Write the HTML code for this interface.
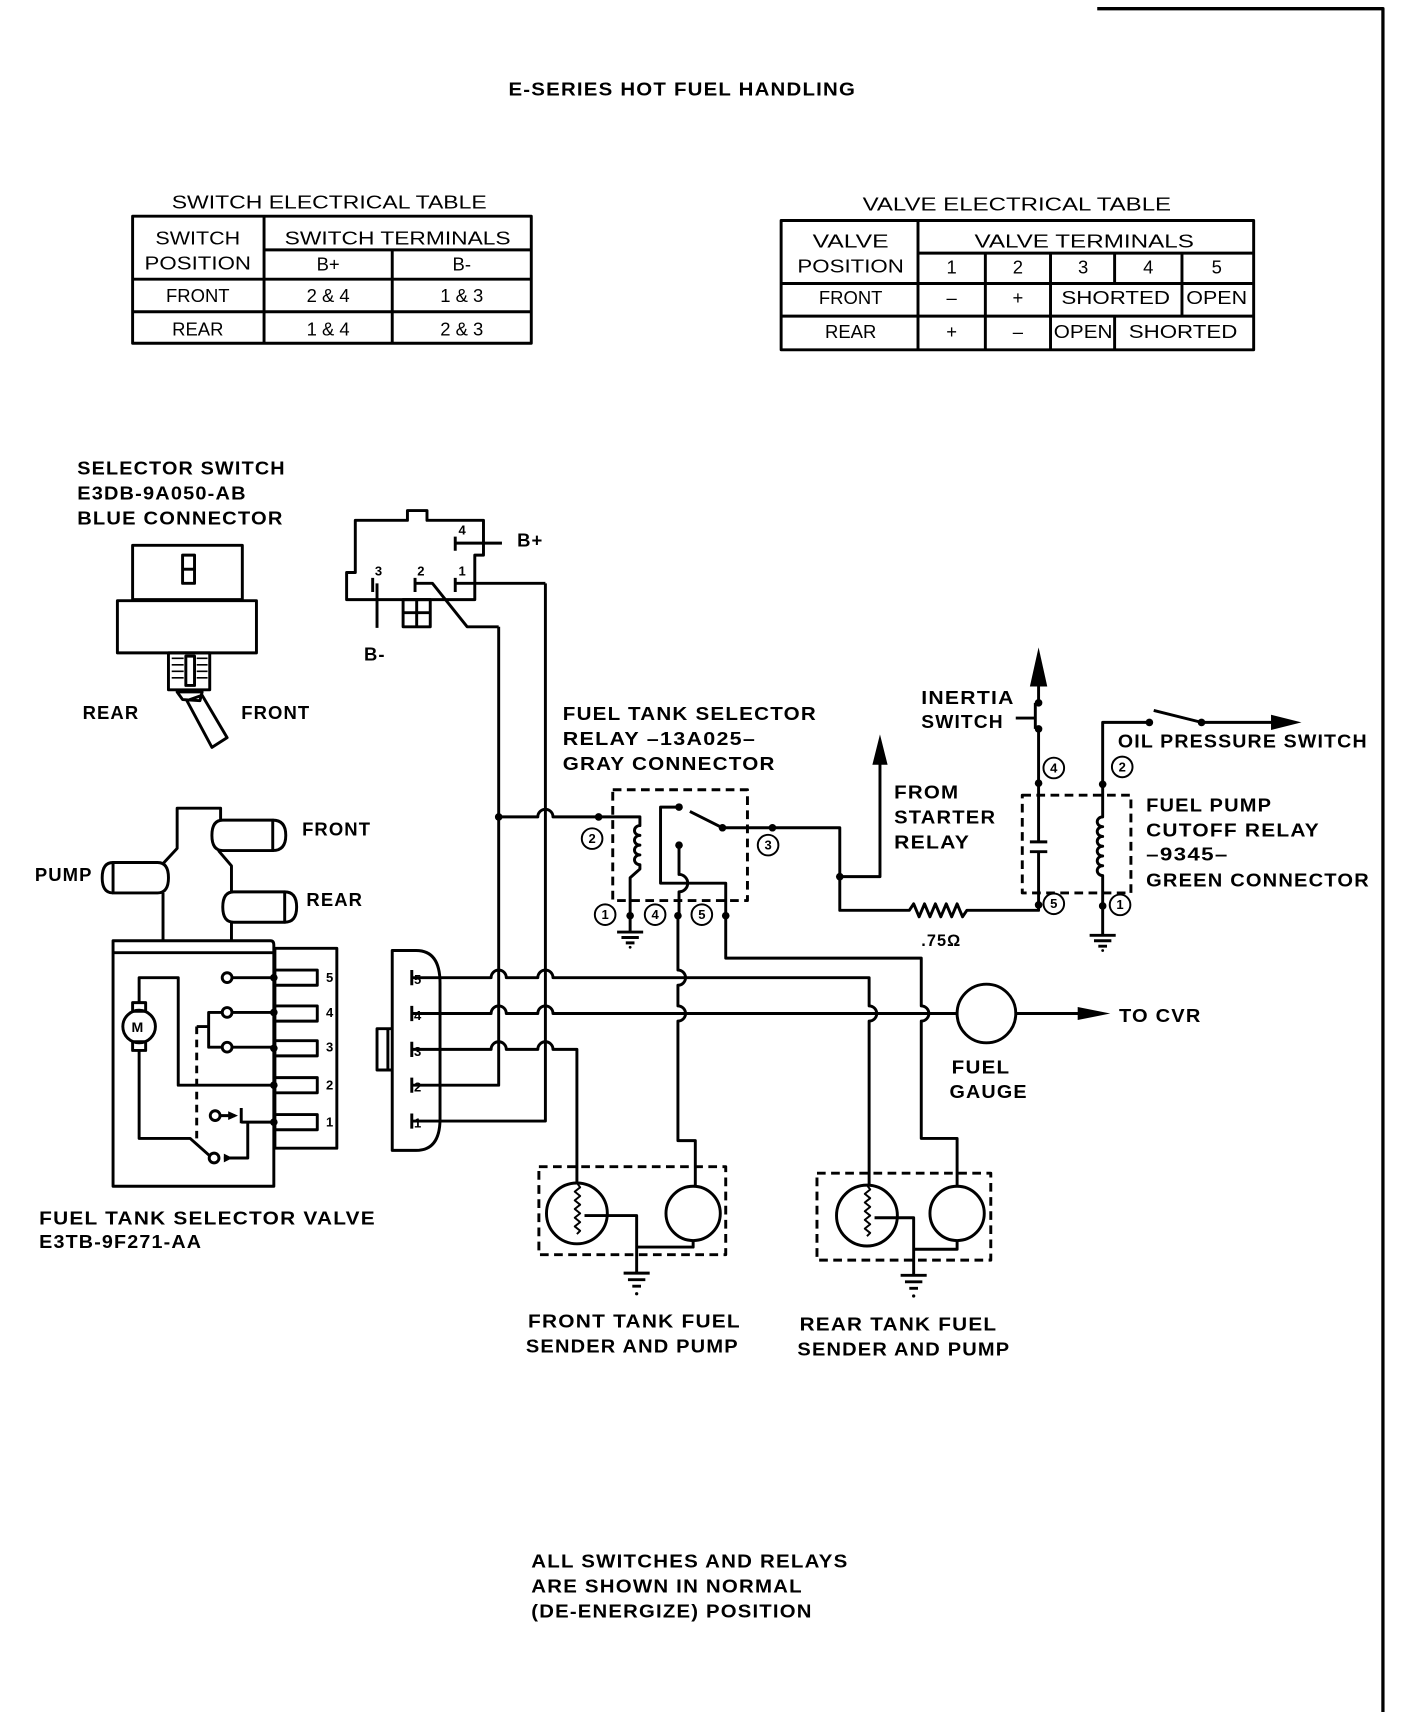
<!DOCTYPE html>
<html><head><meta charset="utf-8"><style>
html,body{margin:0;padding:0;background:#fff;}
svg{display:block;}
.t{font-family:"Liberation Sans",sans-serif;font-weight:bold;font-size:17px;fill:#000;letter-spacing:1px;}
.tb{font-family:"Liberation Sans",sans-serif;font-size:17px;fill:#000;}
.s{font-family:"Liberation Sans",sans-serif;font-size:12px;font-weight:bold;fill:#000;}
</style></head><body>
<svg width="1408" height="1712" viewBox="0 0 1296 1576" xmlns="http://www.w3.org/2000/svg">
<g fill="none" stroke="#000" stroke-width="2.7" stroke-linejoin="round">
<!-- border -->
<path d="M1010 8 H1273 V1576" stroke-width="3"/>
<!-- switch table -->
<rect x="122" y="199" width="367" height="117"/>
<path d="M243 230 H489 M122 257 H489 M122 287 H489 M243 199 V316 M361 230 V316"/>
<!-- valve table -->
<rect x="719" y="203" width="435" height="119"/>
<path d="M845 233 H1154 M719 261 H1154 M719 291 H1154 M845 203 V322 M907 233 V322 M967 233 V322 M1026 233 V261 M1026 291 V322 M1088 233 V291"/>

<!-- selector switch -->
<rect x="122" y="502" width="101" height="50"/>
<rect x="168" y="511" width="11" height="26"/><path d="M168 524 H179"/>
<rect x="108" y="553" width="128" height="48"/>
<rect x="155" y="601" width="38" height="34"/>
<rect x="171" y="604" width="8" height="27" fill="#fff"/>
<path d="M158 606 H169 M158 612 H169 M158 618 H169 M158 624 H169 M181 606 H191 M181 612 H191 M181 618 H191 M181 624 H191" stroke-width="1.5"/>
<path d="M163 637 L186 637 L184 645 L168 644 Z"/>
<path d="M172 645 L186 640 L209 679 L195 688 Z"/>

<!-- switch connector -->
<path d="M327 479 H375 V470 H393 V479 H445 V511 H437 V552 H319 V527 H327 Z"/>
<path d="M419 494 V507 M419 500 H462"/>
<path d="M343 532 V545 M347 537 V578"/>
<path d="M382 532 V545 M382 537 H398 L430 577 H459"/>
<path d="M419 532 V545 M419 537 H502"/>
<rect x="371" y="552" width="25" height="25"/><path d="M383.5 552 V577 M371 564 H396"/>

<!-- main vertical wires -->
<path d="M459 577 V999 H379"/>
<path d="M502 537 V1032 H379"/>
<path d="M459 752 H495 a7 7 0 0 1 14 0 H551"/>
<!-- connector pin lines -->
<path d="M379 900 H452 a7 7 0 0 1 14 0 H495 a7 7 0 0 1 14 0 H800 V926 a7 7 0 0 1 0 14 V1091"/>
<path d="M379 933 H452 a7 7 0 0 1 14 0 H495 a7 7 0 0 1 14 0 H881"/>
<path d="M379 966 H452 a7 7 0 0 1 14 0 H495 a7 7 0 0 1 14 0 H531 V1089"/>
<!-- multi-pin connector -->
<path d="M361 875 H383 Q405 875 405 905 V1030 Q405 1059 383 1059 H361 Z"/>
<path d="M361 947 H347 V985 H361 M357 947 V985"/>
<path d="M379 893 V907 M379 926 V940 M379 959 V973 M379 992 V1006 M379 1025 V1039"/>

<!-- relay 13A025 -->
<rect x="564" y="727" width="124" height="102" stroke-dasharray="8 5"/>
<path d="M551 752 H589 V760 a5 4.5 0 0 0 0 9 a5 4.5 0 0 0 0 9 a5 4.5 0 0 0 0 9 a5 4.5 0 0 0 0 9 V800 L580 808 V858"/>
<path d="M568 858 H592 M572 863 H588 M576 868 H584"/>
<path d="M625 743 H608 V813 H668 V843"/>
<path d="M635 747 L665 762 H773 V838 H837 l4 -6 l5 12 l5 -12 l5 12 l5 -12 l5 12 l5 -12 l5 12 l5 -12 l5 12 l4 -6 H956 V833"/>
<path d="M625 778 V805 a8 8 0 0 1 0 16 V843"/>
<!-- relay pin 4/5 down -->
<path d="M624 843 V893 a7 7 0 0 1 0 14 V926 a7 7 0 0 1 0 14 V1050 H640 V1092"/>
<path d="M668 843 V882 H848 V926 a7 7 0 0 1 0 14 V1048 H881 V1092"/>
<!-- from starter relay -->
<path d="M773 807 H810 V690"/>
<!-- cutoff relay -->
<rect x="941" y="732" width="100" height="90" stroke-dasharray="8 5"/>
<path d="M956 833 V784 M948 784 H964 M948 775 H964 M956 775 V671 M953 671 V647 M935 661 H953 M956 647 V625"/>
<path d="M1015 861 V806 a5 4.5 0 0 1 0 -9 a5 4.5 0 0 1 0 -9 a5 4.5 0 0 1 0 -9 a5 4.5 0 0 1 0 -9 a5 4.5 0 0 1 0 -9 a5 4.5 0 0 1 0 -9 V665 H1058"/>
<path d="M1062 654 L1106 665 H1180"/>
<path d="M1003 861 H1027 M1007 866 H1023 M1011 871 H1019"/>
<!-- gauge -->
<circle cx="908" cy="933" r="27"/>
<path d="M935 933 H1000"/>

<!-- senders -->
<rect x="496" y="1074" width="172" height="81" stroke-dasharray="8 5"/>
<circle cx="531" cy="1117" r="28"/>
<circle cx="638" cy="1117" r="25"/>
<path d="M531 1089 l3 4 l-5 4 l5 4 l-5 4 l5 4 l-5 4 l5 4 l-5 4 l5 4 l-5 4 l5 4 l-3 3" stroke-width="1.8"/>
<path d="M538 1119 H586 V1148 H638 V1142 M586 1148 V1172"/>
<path d="M574 1172 H598 M578 1178 H594 M582 1184 H590"/>
<rect x="752" y="1080" width="160" height="80" stroke-dasharray="8 5"/>
<circle cx="798" cy="1119" r="28"/>
<circle cx="881" cy="1117" r="25"/>
<path d="M798 1091 l3 4 l-5 4 l5 4 l-5 4 l5 4 l-5 4 l5 4 l-5 4 l5 4 l-5 4 l5 4 l-3 3" stroke-width="1.8"/>
<path d="M805 1121 H841 V1150 H881 V1142 M841 1150 V1174"/>
<path d="M829 1174 H853 M833 1180 H849 M837 1186 H845"/>

<!-- valve body -->
<path d="M150 866 V822 M150 795 L163 781 V744 H203 V755 M201 783 L213 797 V821 M213 849 V866"/>
<path d="M251 755 H205 Q195 755 195 769 Q195 783 205 783 H251 Z"/>
<path d="M251 755 Q263 755 263 769 Q263 783 251 783"/>
<path d="M262 821 H215 Q205 821 205 835 Q205 849 215 849 H262 Z"/>
<path d="M262 821 Q273 821 273 835 Q273 849 262 849"/>
<path d="M104 794 H145 Q155 794 155 808 Q155 822 145 822 H104 Z"/>
<path d="M104 794 Q94 794 94 808 Q94 822 104 822"/>
<!-- valve box -->
<path d="M104 1092 V866 H249 Q252 866 252 870 V1092 Z"/>
<path d="M105 877 H252"/>
<rect x="253" y="873" width="57" height="184"/>
<path d="M252 893 H292 V907 H252 M252 926 H292 V940 H252 M252 958 H292 V972 H252 M252 992 H292 V1006 H252 M252 1026 H292 V1040 H252"/>
<circle cx="209" cy="900" r="4.5"/><circle cx="209" cy="932" r="4.5"/><circle cx="209" cy="964" r="4.5"/>
<path d="M214 900 H252 M214 932 H252 M214 964 H252 M204 932 H192 V964 H204 M192 945 H181"/>
<path d="M181 945 V1048" stroke-dasharray="7 5"/>
<circle cx="128" cy="945" r="15"/>
<rect x="122" y="923" width="12" height="8"/><rect x="122" y="959" width="12" height="8"/>
<path d="M128 923 V900 H164 V999 H252"/>
<path d="M128 967 V1048 H175 L193 1064"/>
<circle cx="198" cy="1027" r="4.5"/><circle cx="197" cy="1066" r="4.5"/>
<path d="M202 1027 H216 M222 1020 V1034 M222 1033 H252 M228 1033 V1066 H206"/>
</g>
<!-- filled bits -->
<g fill="#000" stroke="none">
<path d="M210 1023 L219 1027 L210 1031 Z"/><path d="M206 1062 L214 1066 L206 1070 Z"/>
<circle cx="459" cy="752" r="3.5"/><circle cx="551" cy="752" r="3.5"/>
<circle cx="580" cy="843" r="3.5"/><circle cx="624" cy="843" r="3.5"/><circle cx="668" cy="843" r="3.5"/>
<circle cx="625" cy="743" r="3.5"/><circle cx="625" cy="778" r="3.5"/><circle cx="665" cy="762" r="3.5"/><circle cx="711" cy="762" r="3.5"/>
<circle cx="773" cy="807" r="3.5"/>
<path d="M810 676 L803 704 L817 704 Z"/>
<path d="M956 596 L948 632 L964 632 Z"/>
<circle cx="956" cy="833" r="3.5"/><circle cx="956" cy="721" r="3.5"/><circle cx="956" cy="671" r="3.5"/><circle cx="956" cy="647" r="3.5"/>
<circle cx="1015" cy="722" r="3.5"/><circle cx="1015" cy="834" r="3.5"/>
<circle cx="1058" cy="665" r="3.5"/><circle cx="1106" cy="665" r="3.5"/>
<path d="M1198 665 L1170 658 L1170 672 Z"/>
<path d="M1022 933 L992 927 L992 939 Z"/>
<circle cx="252" cy="900" r="3.5"/><circle cx="252" cy="932" r="3.5"/><circle cx="252" cy="965" r="3.5"/><circle cx="252" cy="999" r="3.5"/><circle cx="252" cy="1033" r="3.5"/>
<circle cx="586" cy="1191" r="1.5"/><circle cx="841" cy="1193" r="1.5"/><circle cx="580" cy="872" r="1.3"/><circle cx="1015" cy="875" r="1.3"/>
</g>
<!-- small circled labels -->
<g fill="none" stroke="#000" stroke-width="1.8">
<circle cx="545" cy="772" r="9.5"/><circle cx="557" cy="842" r="9.5"/><circle cx="603" cy="842" r="9.5"/><circle cx="646" cy="842" r="9.5"/><circle cx="707" cy="778" r="9.5"/>
<circle cx="970" cy="707" r="9.5"/><circle cx="1033" cy="706" r="9.5"/><circle cx="970" cy="832" r="9.5"/><circle cx="1031" cy="833" r="9.5"/>
</g>
<g class="s" text-anchor="middle">
<text x="545" y="776">2</text><text x="557" y="846">1</text><text x="603" y="846">4</text><text x="646" y="846">5</text><text x="707" y="782">3</text>
<text x="970" y="711">4</text><text x="1033" y="710">2</text><text x="970" y="836">5</text><text x="1031" y="837">1</text>
</g>
<g class="s" font-size="9">
<text x="422" y="492">4</text><text x="345" y="530">3</text><text x="384" y="530">2</text><text x="422" y="530">1</text>
<text x="381" y="906">5</text><text x="381" y="939">4</text><text x="381" y="972">3</text><text x="381" y="1005">2</text><text x="381" y="1038">1</text>
<text x="300" y="904">5</text><text x="300" y="936">4</text><text x="300" y="968">3</text><text x="300" y="1003">2</text><text x="300" y="1037">1</text>
<text x="121" y="950" font-size="13">M</text>
</g>

<!-- text -->
<text class="t" x="468" y="88" textLength="320" lengthAdjust="spacingAndGlyphs">E-SERIES HOT FUEL HANDLING</text>
<g class="tb" text-anchor="middle">
<text x="303" y="192" textLength="290" lengthAdjust="spacingAndGlyphs">SWITCH ELECTRICAL TABLE</text>
<text x="182" y="225" textLength="78" lengthAdjust="spacingAndGlyphs">SWITCH</text>
<text x="182" y="248" textLength="98" lengthAdjust="spacingAndGlyphs">POSITION</text>
<text x="366" y="225" textLength="208" lengthAdjust="spacingAndGlyphs">SWITCH TERMINALS</text>
<text x="302" y="249">B+</text><text x="425" y="249">B-</text>
<text x="182" y="278">FRONT</text><text x="302" y="278">2 &amp; 4</text><text x="425" y="278">1 &amp; 3</text>
<text x="182" y="309">REAR</text><text x="302" y="309">1 &amp; 4</text><text x="425" y="309">2 &amp; 3</text>
<text x="936" y="194" textLength="284" lengthAdjust="spacingAndGlyphs">VALVE ELECTRICAL TABLE</text>
<text x="783" y="228" textLength="70" lengthAdjust="spacingAndGlyphs">VALVE</text>
<text x="783" y="251" textLength="98" lengthAdjust="spacingAndGlyphs">POSITION</text>
<text x="998" y="228" textLength="202" lengthAdjust="spacingAndGlyphs">VALVE TERMINALS</text>
<text x="876" y="252">1</text><text x="937" y="252">2</text><text x="997" y="252">3</text><text x="1057" y="252">4</text><text x="1120" y="252">5</text>
<text x="783" y="280">FRONT</text><text x="876" y="280">–</text><text x="937" y="280">+</text><text x="1027" y="280" textLength="100" lengthAdjust="spacingAndGlyphs">SHORTED</text><text x="1120" y="280" textLength="56" lengthAdjust="spacingAndGlyphs">OPEN</text>
<text x="783" y="311">REAR</text><text x="876" y="311">+</text><text x="937" y="311">–</text><text x="997" y="311" textLength="54" lengthAdjust="spacingAndGlyphs">OPEN</text><text x="1089" y="311" textLength="100" lengthAdjust="spacingAndGlyphs">SHORTED</text>
</g>
<g class="t">
<text x="71" y="437" textLength="192" lengthAdjust="spacingAndGlyphs">SELECTOR SWITCH</text>
<text x="71" y="460" textLength="156" lengthAdjust="spacingAndGlyphs">E3DB-9A050-AB</text>
<text x="71" y="483" textLength="190" lengthAdjust="spacingAndGlyphs">BLUE CONNECTOR</text>
<text x="76" y="662">REAR</text><text x="222" y="662">FRONT</text>
<text x="476" y="503">B+</text><text x="335" y="608">B-</text>
<text x="32" y="811">PUMP</text><text x="278" y="769">FRONT</text><text x="282" y="834">REAR</text>
<text x="36" y="1127" textLength="310" lengthAdjust="spacingAndGlyphs">FUEL TANK SELECTOR VALVE</text>
<text x="36" y="1149" textLength="150" lengthAdjust="spacingAndGlyphs">E3TB-9F271-AA</text>
<text x="518" y="663" textLength="234" lengthAdjust="spacingAndGlyphs">FUEL TANK SELECTOR</text>
<text x="518" y="686" textLength="178" lengthAdjust="spacingAndGlyphs">RELAY –13A025–</text>
<text x="518" y="709" textLength="196" lengthAdjust="spacingAndGlyphs">GRAY CONNECTOR</text>
<text x="848" y="648" textLength="86" lengthAdjust="spacingAndGlyphs">INERTIA</text>
<text x="848" y="670" textLength="76" lengthAdjust="spacingAndGlyphs">SWITCH</text>
<text x="1029" y="688" textLength="230" lengthAdjust="spacingAndGlyphs">OIL PRESSURE SWITCH</text>
<text x="823" y="735" textLength="60" lengthAdjust="spacingAndGlyphs">FROM</text>
<text x="823" y="758" textLength="94" lengthAdjust="spacingAndGlyphs">STARTER</text>
<text x="823" y="781" textLength="70" lengthAdjust="spacingAndGlyphs">RELAY</text>
<text x="1055" y="747" textLength="116" lengthAdjust="spacingAndGlyphs">FUEL PUMP</text>
<text x="1055" y="770" textLength="160" lengthAdjust="spacingAndGlyphs">CUTOFF RELAY</text>
<text x="1055" y="792" textLength="76" lengthAdjust="spacingAndGlyphs">–9345–</text>
<text x="1055" y="816" textLength="206" lengthAdjust="spacingAndGlyphs">GREEN CONNECTOR</text>
<text x="848" y="871" font-size="15">.75Ω</text>
<text x="1030" y="941" textLength="76" lengthAdjust="spacingAndGlyphs">TO CVR</text>
<text x="876" y="988" textLength="54" lengthAdjust="spacingAndGlyphs">FUEL</text>
<text x="874" y="1011" textLength="72" lengthAdjust="spacingAndGlyphs">GAUGE</text>
<text x="486" y="1222" textLength="196" lengthAdjust="spacingAndGlyphs">FRONT TANK FUEL</text>
<text x="484" y="1245" textLength="196" lengthAdjust="spacingAndGlyphs">SENDER AND PUMP</text>
<text x="736" y="1225" textLength="182" lengthAdjust="spacingAndGlyphs">REAR TANK FUEL</text>
<text x="734" y="1248" textLength="196" lengthAdjust="spacingAndGlyphs">SENDER AND PUMP</text>
<text x="489" y="1443" textLength="292" lengthAdjust="spacingAndGlyphs">ALL SWITCHES AND RELAYS</text>
<text x="489" y="1466" textLength="250" lengthAdjust="spacingAndGlyphs">ARE SHOWN IN NORMAL</text>
<text x="489" y="1489" textLength="259" lengthAdjust="spacingAndGlyphs">(DE-ENERGIZE) POSITION</text>
</g>
</svg>
</body></html>
